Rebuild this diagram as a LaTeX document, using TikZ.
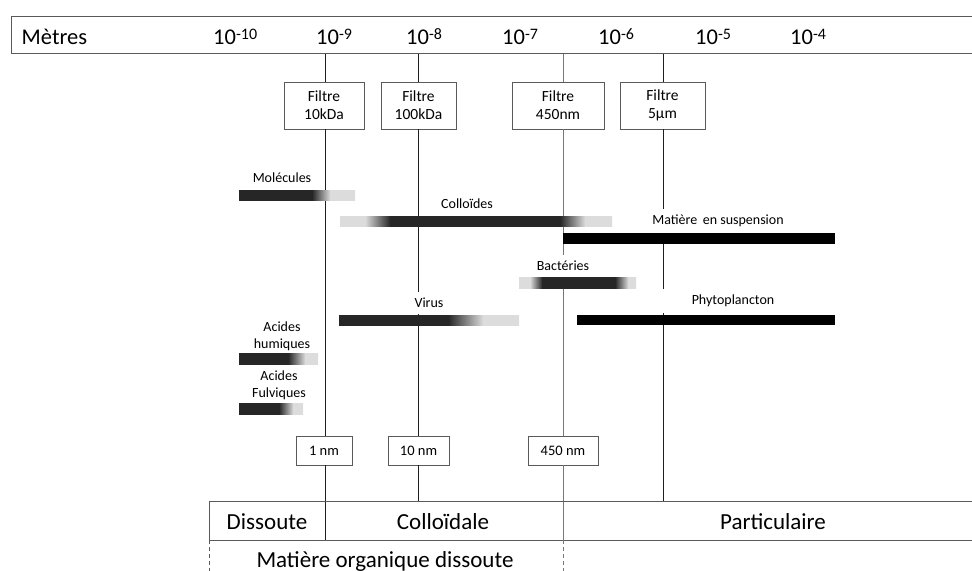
\documentclass[tikz,border=0pt]{standalone}
\usepackage{fontspec}
\setmainfont{Carlito}
\definecolor{barDark}{RGB}{38,38,38}
\definecolor{barLight}{RGB}{220,220,220}
\definecolor{lineC}{RGB}{30,30,30}
\definecolor{lineG}{RGB}{120,120,120}
\definecolor{boxC}{RGB}{90,90,90}
\newcommand\gseg[6]{\shade[left color=#1,right color=#2] (#3,#5) rectangle (#4,#6);}
\newcommand\pw[1]{10\raisebox{5bp}{\fontsize{16bp}{16bp}\selectfont -#1}}
\begin{document}
\begin{tikzpicture}[x=1bp,y=-1bp,
  big/.style={font=\fontsize{22.5bp}{27bp}\selectfont, inner sep=0pt},
  filt/.style={draw=boxC, line width=0.9bp, fill=white, align=center, inner sep=0pt,
     font=\fontsize{15.5bp}{18bp}\selectfont, minimum height=47bp},
  nmbox/.style={draw=boxC, line width=0.9bp, fill=white, inner sep=0pt,
     minimum height=29bp, font=\fontsize{14.5bp}{17bp}\selectfont},
  lbl/.style={fill=white, inner xsep=2bp, inner ysep=6bp, align=center,
     font=\fontsize{14bp}{17bp}\selectfont},
  vline/.style={draw=lineC, line width=0.9bp},
  gline/.style={draw=lineG, line width=0.9bp},
  frame/.style={draw=boxC, line width=1bp}]
\useasboundingbox (0,0) rectangle (972,571);

% top scale box
\draw[frame] (973,17) -- (11,17) -- (11,54) -- (973,54);
\node[big, anchor=base west] (mt) at (21.5,44.3) {Mètres};
\node[big, anchor=base west] (e10) at (213,44.3) {\pw{10}};
\node[big, anchor=base west] (e9) at (316,44.3) {\pw{9}};
\node[big, anchor=base west] (e8) at (406,44.3) {\pw{8}};
\node[big, anchor=base west] (e7) at (502,44.3) {\pw{7}};
\node[big, anchor=base west] (e6) at (598,44.3) {\pw{6}};
\node[big, anchor=base west] (e5) at (695,44.3) {\pw{5}};
\node[big, anchor=base west] (e4) at (790,44.3) {\pw{4}};

% filter and size boxes
\node[filt, minimum width=80bp] (f1) at (324,105.5) {Filtre\\10kDa};
\node[filt, minimum width=75bp] (f2) at (418.5,105.5) {Filtre\\100kDa};
\node[filt, minimum width=92bp] (f3) at (558,105.5) {Filtre\\450nm};
\node[filt, minimum width=85bp] (f4) at (662.5,105.5) {Filtre\\5µm};
\node[nmbox, minimum width=56bp] (n1) at (324,450.5) {1 nm};
\node[nmbox, minimum width=61bp] (n2) at (418.5,450.5) {10 nm};
\node[nmbox, minimum width=70bp] (n3) at (563,450.5) {450 nm};

\coordinate (t1) at (325,54);
\coordinate (t2) at (418,54);
\coordinate (t3) at (563,54);
\coordinate (t4) at (663,54);
\coordinate (b1) at (325,540);
\coordinate (b2) at (418,501);
\coordinate (b3) at (563,540);
\coordinate (b4) at (663,501);
\coordinate (d3) at (563,571);
\coordinate (dl) at (209,571);

% vertical lines
\draw[vline] (t1) -- (t1 |- f1.north) (t1 |- f1.south) -- (t1 |- n1.north) (t1 |- n1.south) -- (b1);
\draw[vline] (t2) -- (t2 |- f2.north) (t2 |- f2.south) -- (t2 |- n2.north) (t2 |- n2.south) -- (b2);
\draw[gline] (t3) -- (t3 |- f3.north) (t3 |- f3.south) -- (t3 |- n3.north) (t3 |- n3.south) -- (b3);
\draw[vline] (t4) -- (t4 |- f4.north) (t4 |- f4.south) -- (b4);

% bottom table
\draw[frame] (973,501) -- (209,501) -- (209,540) -- (973,540);
\draw[boxC, line width=0.9bp, dash pattern=on 4bp off 3bp] (209,540) -- (dl);
\draw[lineG, line width=0.9bp, dash pattern=on 4bp off 3bp] (b3) -- (d3);
\node[font=\fontsize{23bp}{27bp}\selectfont, inner sep=0pt] (ds) at (267,522) {Dissoute};
\node[font=\fontsize{23bp}{27bp}\selectfont, inner sep=0pt] (co) at (443,522) {Colloïdale};
\node[font=\fontsize{23bp}{27bp}\selectfont, inner sep=0pt] (pa) at (773,522) {Particulaire};
\node[font=\fontsize{23bp}{27bp}\selectfont, inner sep=0pt] (mo) at (385,561) {Matière organique dissoute};

% labels (white boxes hide the lines behind them)
\node[lbl] (lm) at (282,178) {Molécules};
\node[lbl] (lc) at (467,204) {Colloïdes};
\node[lbl] (ls) at (718,221) {Matière\, en suspension};
\node[lbl] (lb) at (563,266) {Bactéries};
\node[lbl] (lv) at (429,303) {Virus};
\node[lbl, minimum width=150bp] (lp) at (733,301) {Phytoplancton};
\node[lbl, inner ysep=1bp] (lh) at (282,336) {Acides\\humiques};
\node[lbl, inner ysep=1bp] (lf) at (279,385) {Acides\\Fulviques};

% bars
% Molecules
\gseg{barDark}{barDark}{239}{312.4}{191}{201}
\gseg{barDark}{barLight}{312}{330.4}{191}{201}
\gseg{barLight}{barLight}{330}{355}{191}{201}
% Colloides
\gseg{barLight}{barLight}{340}{365.4}{217}{227}
\gseg{barLight}{barDark}{365}{390.4}{217}{227}
\gseg{barDark}{barDark}{390}{560.4}{217}{227}
\gseg{barDark}{barLight}{560}{585.4}{217}{227}
\gseg{barLight}{barLight}{585}{612}{217}{227}
% Bacteries
\gseg{barLight}{barLight}{519}{530.4}{277}{288}
\gseg{barLight}{barDark}{530}{542.4}{277}{288}
\gseg{barDark}{barDark}{542}{615.4}{277}{288}
\gseg{barDark}{barLight}{615}{628.4}{277}{288}
\gseg{barLight}{barLight}{628}{636}{277}{288}
% Virus
\gseg{barDark}{barDark}{339}{448.4}{315}{325}
\gseg{barDark}{barLight}{448}{483.4}{315}{325}
\gseg{barLight}{barLight}{483}{519}{315}{325}
% Acides humiques
\gseg{barDark}{barDark}{239}{288.4}{353}{364}
\gseg{barDark}{barLight}{288}{305.4}{353}{364}
\gseg{barLight}{barLight}{305}{318}{353}{364}
% Acides fulviques
\gseg{barDark}{barDark}{239}{279.4}{403}{414}
\gseg{barDark}{barLight}{279}{293.4}{403}{414}
\gseg{barLight}{barLight}{293}{303}{403}{414}
% black bars
\fill[black] (563,233) rectangle (835,244);
\fill[black] (577,315) rectangle (835,325);
\end{tikzpicture}
\end{document}
